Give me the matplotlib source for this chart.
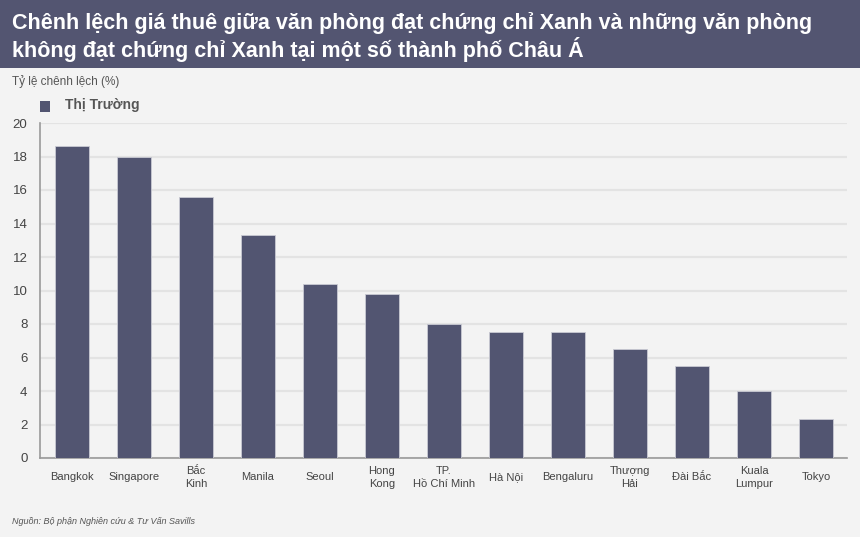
import matplotlib.pyplot as plt
from matplotlib.patches import Rectangle

plt.rcParams['font.family'] = ['Liberation Sans', 'DejaVu Sans']

cities = ['Bangkok', 'Singapore', 'Bắc\nKinh', 'Manila', 'Seoul', 'Hong\nKong',
          'TP.\nHồ Chí Minh', 'Hà Nội', 'Bengaluru', 'Thượng\nHải', 'Đài Bắc',
          'Kuala\nLumpur', 'Tokyo']
values = [18.6, 18.0, 15.6, 13.3, 10.4, 9.8, 8.0, 7.5, 7.5, 6.5, 5.5, 4.0, 2.3]
yticks = [0, 2, 4, 6, 8, 10, 12, 14, 16, 18, 20]

title = ('Chênh lệch giá thuê giữa văn phòng đạt chứng chỉ Xanh và những văn phòng\n'
         'không đạt chứng chỉ Xanh tại một số thành phố Châu Á')
y_label = 'Tỷ lệ chênh lệch (%)'
legend_label = 'Thị Trường'
source = 'Nguồn: Bộ phận Nghiên cứu & Tư Vấn Savills'

bar_color = '#525571'
bg = '#f3f3f3'

fig = plt.figure(figsize=(8.6, 5.37), dpi=100, facecolor=bg)

# khung tiêu đề
fig.patches.append(Rectangle((0, 1 - 68 / 537), 1, 68 / 537, transform=fig.transFigure,
                             facecolor='#535571', edgecolor='none', zorder=0))
fig.text(12 / 860, 1 - 37 / 537, title, color='white', fontsize=15.5, fontweight='bold',
         va='center', ha='left', linespacing=1.2)

ax = fig.add_axes([40 / 860, 1 - 458 / 537, (847 - 40) / 860, (458 - 123) / 537])
ax.set_facecolor(bg)
x = list(range(len(cities)))
ax.bar(x, values, width=0.55, color=bar_color, edgecolor='#c9cad3', linewidth=0.6, zorder=3)

ax.set_ylim(0, 20)
ax.set_xlim(-0.516, 12.5)
ax.set_yticks(yticks)
ax.set_xticks(x)
ax.set_xticklabels(cities, fontsize=8, color='#444444', linespacing=1.35, va='center')
ax.tick_params(axis='y', length=0, labelsize=9.5, colors='#444444', pad=9)
ax.tick_params(axis='x', length=0, pad=14)
ax.grid(axis='y', color='#e3e3e3', linewidth=1.6, zorder=0)
for s in ['top', 'right']:
    ax.spines[s].set_visible(False)
ax.spines['left'].set_color('#999999')
ax.spines['bottom'].set_color('#999999')
ax.spines['left'].set_linewidth(1.2)
ax.spines['bottom'].set_linewidth(1.2)

fig.text(12 / 860, 1 - 82 / 537, y_label, fontsize=8.5, color='#555555', va='center')
fig.patches.append(Rectangle((40 / 860, 1 - 112 / 537), 10 / 860, 11 / 537,
                             transform=fig.transFigure, facecolor=bar_color, edgecolor='none'))
fig.text(65 / 860, 1 - 105 / 537, legend_label, fontsize=10, fontweight='bold',
         color='#555555', va='center')
fig.text(12 / 860, 1 - 521 / 537, source, fontsize=6.5, style='italic', color='#555555',
         va='center')

fig.savefig('out.png', dpi=100, facecolor=bg)
